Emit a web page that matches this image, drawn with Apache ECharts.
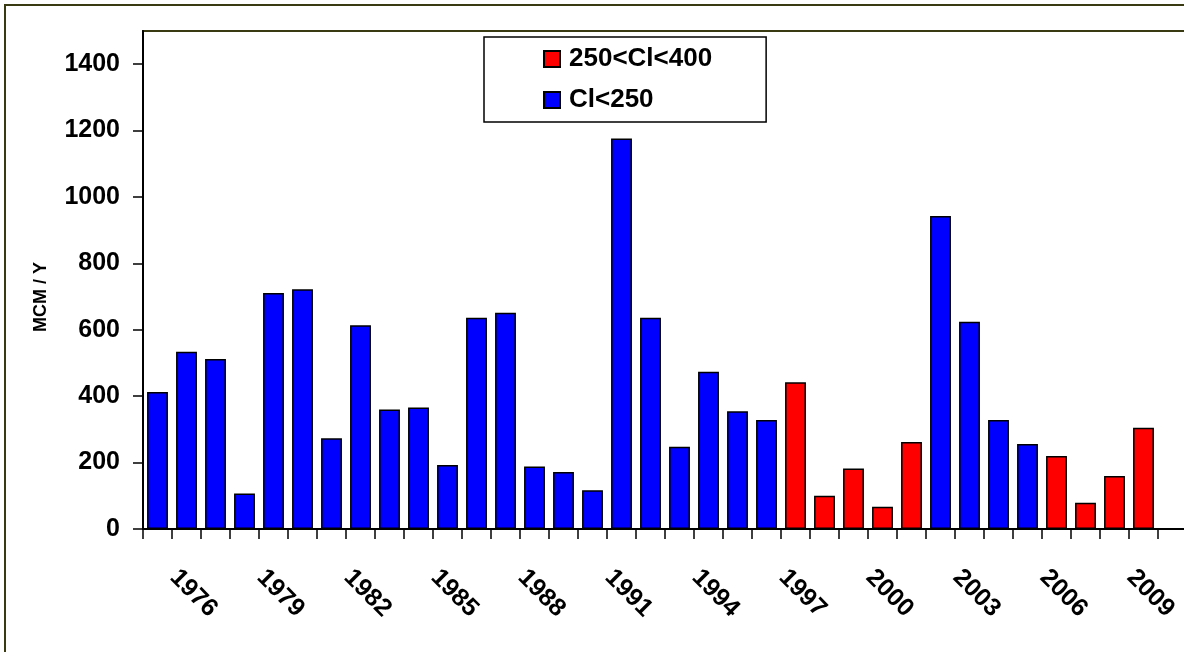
<!DOCTYPE html>
<html>
<head>
<meta charset="utf-8">
<script src="https://cdn.jsdelivr.net/npm/echarts@6/dist/echarts.min.js"></script>
<style>
html,body{margin:0;padding:0;background:#fff;}
#chart{width:1184px;height:652px;}
</style>
</head>
<body>
<div id="chart"></div>
<script>
const years = ['1975','1976','1977','1978','1979','1980','1981','1982','1983','1984','1985','1986','1987','1988','1989','1990','1991','1992','1993','1994','1995','1996','1997','1998','1999','2000','2001','2002','2003','2004','2005','2006','2007','2008','2009','2010'];
const blueValues = [413,534,512,107,711,722,273,614,360,366,193,636,651,188,172,117,1176,636,248,474,355,328,null,null,null,null,null,943,624,328,256,null,null,null,null,null];
const redValues = [null,null,null,null,null,null,null,null,null,null,null,null,null,null,null,null,null,null,null,null,null,null,442,100,182,67,262,null,null,null,null,220,79,160,305,null];
const yTicks = [0,200,400,600,800,1000,1200,1400];
const seriesNames = ['250<Cl<400','Cl<250'];
const axisName = 'MCM / Y';

const FONT = 'Arial, "Liberation Sans", sans-serif';
const chart = echarts.init(document.getElementById('chart'), null, {renderer:'canvas'});
chart.setOption({
  backgroundColor:'#ffffff',
  animation:false,
  graphic:[{
    type:'rect', z:-10, silent:true,
    shape:{x:5,y:5,width:1230,height:700},
    style:{fill:null,stroke:'#3a3a12',lineWidth:2}
  }],
  grid:{left:143,right:-3,top:31,bottom:123,show:true,borderColor:'#3a3a12',borderWidth:2,backgroundColor:'transparent',outerBoundsMode:'none',containLabel:false},
  legend:{
    orient:'vertical', left:484, top:37,
    data:seriesNames,
    backgroundColor:'#fff', borderColor:'#000', borderWidth:1.5,
    padding:[9,54,9,59],
    itemWidth:16, itemHeight:16, itemGap:15,
    icon:'rect',
    textStyle:{fontFamily:FONT,fontSize:26,fontWeight:'bold',color:'#000',padding:[0,0,0,4]}
  },
  xAxis:{
    type:'category', data:years, boundaryGap:true,
    axisLine:{lineStyle:{color:'#000',width:2}},
    axisTick:{show:true,interval:0,alignWithLabel:false,length:10,lineStyle:{color:'#000',width:1.5}},
    axisLabel:{
      interval:function(i){return i%3===1;},
      rotate:-45, align:'left', verticalAlign:'top', lineHeight:36, margin:32,
      fontFamily:FONT,fontSize:25,fontWeight:'bold',color:'#000'
    },
    splitLine:{show:false}
  },
  yAxis:{
    type:'value', min:0, max:1500, interval:200,
    name:axisName, nameLocation:'middle', nameGap:93, nameRotate:90,
    nameTextStyle:{fontFamily:FONT,fontSize:18,fontWeight:'bold',color:'#000',padding:[0,34,0,0]},
    axisLine:{show:true,lineStyle:{color:'#000',width:2}},
    axisTick:{show:true,length:10,customValues:yTicks,lineStyle:{color:'#000',width:1.5}},
    axisLabel:{margin:23,customValues:yTicks,formatter:function(v){return String(v);},fontFamily:FONT,fontSize:25,fontWeight:'bold',color:'#000'},
    splitLine:{show:false}
  },
  series:[
    {name:seriesNames[0],type:'bar',data:redValues,barWidth:'72%',barGap:'-100%',
     itemStyle:{color:'#ff0000',borderColor:'#000',borderWidth:1.5}},
    {name:seriesNames[1],type:'bar',data:blueValues,barWidth:'72%',barGap:'-100%',
     itemStyle:{color:'#0000ff',borderColor:'#000',borderWidth:1.5}}
  ]
});
</script>
</body>
</html>
